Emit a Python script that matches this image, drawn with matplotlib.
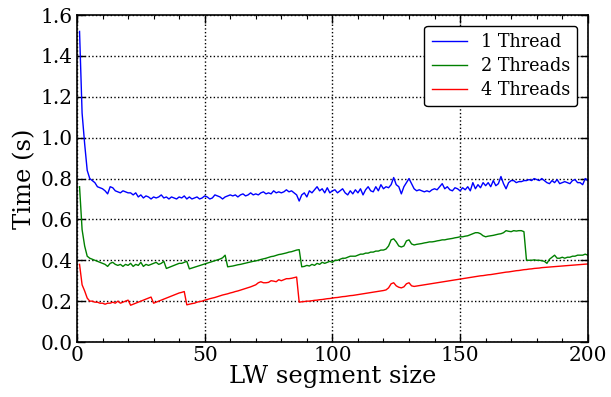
import numpy as np
import matplotlib
matplotlib.use('Agg')
import matplotlib.pyplot as plt
from matplotlib.ticker import MultipleLocator

plt.rcParams['font.family'] = ['DejaVu Serif']

# segment sizes 1..200
seg = list(range(1, 201))

t1 = [1.52, 1.12, 0.97, 0.84, 0.80, 0.79, 0.78, 0.76, 0.755, 0.75,
      0.74, 0.725, 0.76, 0.755, 0.74, 0.735, 0.73, 0.74, 0.735, 0.73,
      0.73, 0.72, 0.73, 0.71, 0.72, 0.705, 0.715, 0.71, 0.70, 0.71,
      0.705, 0.71, 0.72, 0.705, 0.71, 0.70, 0.71, 0.705, 0.70, 0.71,
      0.705, 0.715, 0.70, 0.71, 0.70, 0.705, 0.71, 0.70, 0.705, 0.715,
      0.71, 0.70, 0.705, 0.72, 0.715, 0.71, 0.70, 0.71, 0.715, 0.72,
      0.715, 0.72, 0.71, 0.72, 0.725, 0.715, 0.72, 0.73, 0.72, 0.725,
      0.72, 0.73, 0.735, 0.725, 0.73, 0.725, 0.74, 0.73, 0.735, 0.73,
      0.735, 0.745, 0.735, 0.74, 0.73, 0.72, 0.69, 0.72, 0.73, 0.71,
      0.74, 0.73, 0.745, 0.76, 0.74, 0.75, 0.73, 0.755, 0.73, 0.74,
      0.745, 0.73, 0.74, 0.75, 0.73, 0.72, 0.74, 0.725, 0.745, 0.73,
      0.75, 0.72, 0.745, 0.76, 0.74, 0.735, 0.76, 0.74, 0.77, 0.75,
      0.76, 0.755, 0.77, 0.805, 0.77, 0.76, 0.725, 0.76, 0.78, 0.80,
      0.775, 0.75, 0.74, 0.745, 0.74, 0.735, 0.74, 0.735, 0.745, 0.75,
      0.745, 0.76, 0.775, 0.75, 0.76, 0.745, 0.74, 0.755, 0.75, 0.74,
      0.755, 0.745, 0.76, 0.74, 0.78, 0.75, 0.77, 0.755, 0.78, 0.765,
      0.78, 0.76, 0.79, 0.765, 0.775, 0.81, 0.775, 0.75, 0.78, 0.79,
      0.79, 0.78, 0.785, 0.785, 0.79, 0.79, 0.795, 0.79, 0.80, 0.795,
      0.79, 0.80, 0.79, 0.78, 0.775, 0.79, 0.78, 0.795, 0.775, 0.78,
      0.785, 0.78, 0.775, 0.79, 0.795, 0.78, 0.78, 0.77, 0.80, 0.79]

t2 = [0.76, 0.55, 0.47, 0.42, 0.41, 0.405, 0.40, 0.395, 0.39, 0.385,
      0.38, 0.37, 0.385, 0.39, 0.38, 0.375, 0.38, 0.37, 0.38, 0.375,
      0.385, 0.37, 0.38, 0.375, 0.39, 0.37, 0.38, 0.375, 0.38, 0.385,
      0.39, 0.38, 0.385, 0.395, 0.36, 0.365, 0.37, 0.375, 0.38, 0.385,
      0.385, 0.39, 0.395, 0.358, 0.362, 0.366, 0.37, 0.374, 0.378, 0.382,
      0.386, 0.39, 0.394, 0.398, 0.402, 0.406, 0.412, 0.425, 0.368, 0.37,
      0.372, 0.375, 0.378, 0.38, 0.383, 0.386, 0.389, 0.392, 0.395, 0.397,
      0.40, 0.404, 0.407, 0.41, 0.414, 0.418, 0.42, 0.424, 0.428, 0.43,
      0.433, 0.436, 0.44, 0.442, 0.446, 0.45, 0.452, 0.368, 0.37, 0.375,
      0.372, 0.38, 0.375, 0.385, 0.38, 0.39, 0.385, 0.39, 0.395, 0.39,
      0.40, 0.40, 0.405, 0.41, 0.41, 0.415, 0.42, 0.42, 0.42, 0.425,
      0.43, 0.43, 0.435, 0.435, 0.44, 0.44, 0.445, 0.445, 0.45, 0.45,
      0.455, 0.47, 0.50, 0.505, 0.49, 0.47, 0.465, 0.47, 0.495, 0.50,
      0.48, 0.475, 0.478, 0.48, 0.482, 0.485, 0.487, 0.49, 0.49, 0.492,
      0.495, 0.497, 0.50, 0.50, 0.503, 0.505, 0.507, 0.51, 0.512, 0.515,
      0.515, 0.518, 0.52, 0.525, 0.53, 0.535, 0.535, 0.53, 0.52, 0.515,
      0.518, 0.52, 0.522, 0.525, 0.528, 0.53, 0.535, 0.545, 0.542, 0.54,
      0.545, 0.543, 0.545, 0.545, 0.54, 0.40, 0.40, 0.40, 0.402, 0.40,
      0.40, 0.398, 0.395, 0.385, 0.405, 0.415, 0.425, 0.41, 0.41, 0.415,
      0.41, 0.415, 0.415, 0.42, 0.42, 0.425, 0.425, 0.425, 0.43, 0.425]

t4 = [0.38, 0.28, 0.25, 0.215, 0.20, 0.20, 0.195, 0.195, 0.19, 0.19,
      0.185, 0.19, 0.19, 0.195, 0.19, 0.20, 0.19, 0.195, 0.20, 0.205,
      0.18, 0.185, 0.19, 0.195, 0.20, 0.205, 0.21, 0.215, 0.22, 0.19,
      0.195, 0.20, 0.205, 0.21, 0.215, 0.22, 0.225, 0.23, 0.235, 0.24,
      0.243, 0.247, 0.182, 0.185, 0.188, 0.19, 0.195, 0.198, 0.20, 0.205,
      0.208, 0.212, 0.215, 0.218, 0.222, 0.226, 0.23, 0.233, 0.236, 0.24,
      0.243, 0.247, 0.25, 0.254, 0.258, 0.262, 0.266, 0.27, 0.275, 0.28,
      0.29, 0.295, 0.29, 0.29, 0.292, 0.30, 0.298, 0.295, 0.305, 0.30,
      0.305, 0.31, 0.31, 0.312, 0.315, 0.318, 0.195, 0.197, 0.198, 0.20,
      0.20, 0.202, 0.204, 0.205, 0.207, 0.208, 0.21, 0.212, 0.213, 0.215,
      0.217, 0.218, 0.22, 0.222, 0.223, 0.225, 0.227, 0.228, 0.23, 0.232,
      0.234, 0.236, 0.238, 0.24, 0.242, 0.244, 0.246, 0.248, 0.25, 0.252,
      0.255, 0.265, 0.285, 0.29, 0.275, 0.268, 0.265, 0.27, 0.285, 0.29,
      0.275, 0.272, 0.274, 0.276, 0.278, 0.28, 0.282, 0.284, 0.286, 0.288,
      0.29, 0.292, 0.294, 0.296, 0.298, 0.30, 0.302, 0.304, 0.306, 0.308,
      0.31, 0.312, 0.314, 0.316, 0.318, 0.32, 0.322, 0.324, 0.325, 0.327,
      0.329, 0.33, 0.332, 0.334, 0.336, 0.338, 0.34, 0.342, 0.343, 0.345,
      0.347, 0.349, 0.35, 0.352, 0.354, 0.355, 0.357, 0.358, 0.36, 0.361,
      0.362, 0.364, 0.365, 0.366, 0.367, 0.368, 0.369, 0.37, 0.371, 0.372,
      0.373, 0.374, 0.375, 0.376, 0.377, 0.378, 0.379, 0.38, 0.381, 0.382]

fig = plt.figure(figsize=(6.11, 3.97), dpi=100)
ax = fig.add_axes([0.126, 0.1385, 0.836, 0.8235])

ax.plot(seg, t1, color='b', lw=1, label='1 Thread')
ax.plot(seg, t2, color=(0, 0.5, 0), lw=1, label='2 Threads')
ax.plot(seg, t4, color='r', lw=1, label='4 Threads')

ax.set_xlim(0, 200)
ax.set_ylim(0, 1.6)
ax.xaxis.set_major_locator(MultipleLocator(50))
ax.xaxis.set_minor_locator(MultipleLocator(10))
ax.yaxis.set_major_locator(MultipleLocator(0.2))
ax.tick_params(which='both', direction='in', top=True, right=True, labelsize=14.5)
ax.tick_params(which='major', length=6, width=1, pad=3)
ax.tick_params(which='minor', length=3, width=0.8)
ax.grid(True, which='major', color='k', linestyle=':', lw=1)
for s in ax.spines.values():
    s.set_linewidth(1.2)

ax.set_xlabel('LW segment size', fontsize=17.5, labelpad=0)
ax.set_ylabel('Time (s)', fontsize=17.5, labelpad=3)

leg = ax.legend(loc='upper right', fontsize=12.7, fancybox=True, framealpha=1,
                borderaxespad=0.6, handlelength=2.0, labelspacing=0.35)
leg.get_frame().set_edgecolor('k')

fig.savefig('out.png', dpi=100)
